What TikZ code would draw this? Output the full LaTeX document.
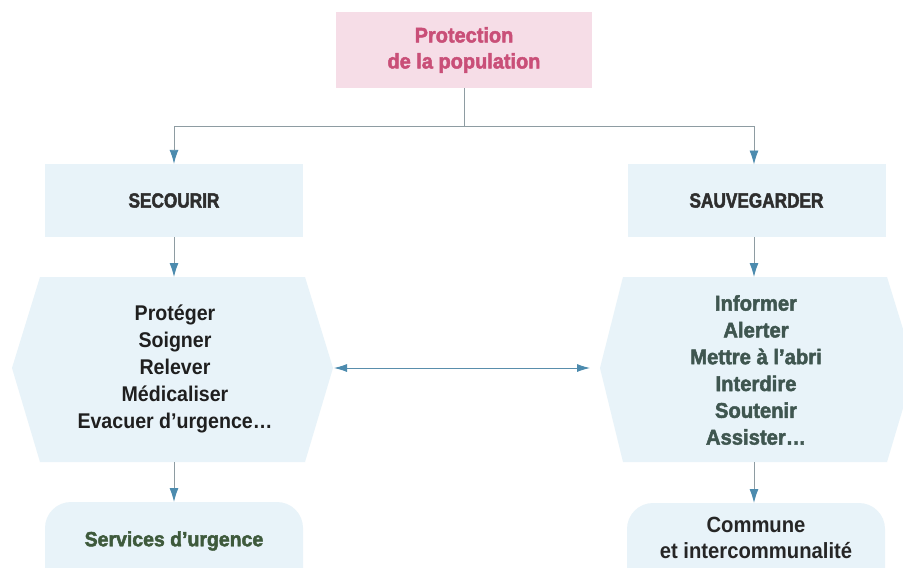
\documentclass[tikz,border=0pt]{standalone}
\usepackage{fontspec}
\setmainfont{Liberation Sans}
\newfontfamily\condf{Liberation Sans}[FakeStretch=0.92]
\newfontfamily\heavyf{Liberation Sans}[FakeStretch=0.84,FakeBold=2.2]
\newfontfamily\roundf{Liberation Sans}[FakeStretch=0.95,FakeBold=2.2]
\usetikzlibrary{arrows.meta}
\definecolor{boxblue}{HTML}{E8F3F9}
\definecolor{boxpink}{HTML}{F6DDE7}
\definecolor{pinktext}{HTML}{C94F78}
\definecolor{linegray}{HTML}{8E9CA2}
\definecolor{tipblue}{HTML}{4C8BAE}
\definecolor{darkgreen}{HTML}{3E5A3C}
\definecolor{greygreen}{HTML}{3F5650}
\definecolor{titlegray}{HTML}{2E2E2E}
\tikzset{
  conn/.style={draw=linegray, line width=0.9pt, -{Latex[length=14pt,width=9pt,color=tipblue]}},
  dbl/.style={draw=tipblue!80!linegray, line width=0.9pt, {Latex[length=13pt,width=8pt,color=tipblue]}-{Latex[length=13pt,width=8pt,color=tipblue]}},
  plain/.style={draw=linegray, line width=0.9pt},
  topbox/.style={fill=boxpink, minimum width=256pt, minimum height=76pt, inner sep=0pt, align=center,
     text=pinktext, font=\roundf\bfseries\fontsize{21}{26}\selectfont},
  levbox/.style={fill=boxblue, minimum width=258pt, minimum height=73pt, inner sep=0pt,
     text=titlegray, font=\heavyf\bfseries\fontsize{20.5}{22}\selectfont},
  listtext/.style={align=center, inner sep=0pt, font=\condf\bfseries\fontsize{21.3}{26.8}\selectfont},
  botbox/.style={fill=boxblue, rounded corners=26pt, minimum width=258pt, minimum height=100pt, inner sep=0pt}
}
\begin{document}
\begin{tikzpicture}[x=1pt,y=-1pt]
\useasboundingbox (0,0) rectangle (903,568);
\clip (0,0) rectangle (903,568);
\fill[white] (0,0) rectangle (903,568);

% top
\node[topbox] (top) at (464,50) {Protection\\de la population};
\coordinate (split) at (464,126);
\coordinate (splitL) at (174,126);
\coordinate (splitR) at (754,126);

% level 1
\node[levbox] (sec) at (174,200.5) {SECOURIR};
\node[levbox] (sau) at (756.5,200.5) {SAUVEGARDER};

% hexagons
\fill[boxblue] (40,277) -- (305,277) -- (333,368) -- (305,462) -- (40,462) -- (12,368) -- cycle;
\fill[boxblue] (623,277) -- (887,277) -- (915,368) -- (887,462) -- (623,462) -- (600,368) -- cycle;
\coordinate (hexLtop) at (174,277);
\coordinate (hexLbot) at (174,462);
\coordinate (hexLright) at (334,368);
\coordinate (hexRtop) at (754,277);
\coordinate (hexRbot) at (754,462);
\coordinate (hexRleft) at (590,368);

\node[listtext, text=black!88] (secl) at (175,369) {Protéger\\Soigner\\Relever\\Médicaliser\\Evacuer d’urgence\ldots};
\node[listtext, font=\roundf\bfseries\fontsize{21.3}{26.8}\selectfont, text=greygreen] (saul) at (756,370) {Informer\\Alerter\\Mettre à l’abri\\Interdire\\Soutenir\\Assister\ldots};

% bottom
\node[botbox] (serv) at (174,552) {};
\node[botbox] (comm) at (756,553) {};
\node[text=darkgreen, inner sep=0pt, font=\roundf\bfseries\fontsize{20.5}{22}\selectfont] (servt) at (174,541) {Services d’urgence};
\node[align=center, inner sep=0pt, text=black!85, font=\condf\bfseries\fontsize{22}{26.5}\selectfont] (commt) at (756,538) {Commune\\et intercommunalité};

% connectors
\draw[plain] (top.south) -- (split);
\draw[plain] (splitL) -- (splitR);
\draw[conn] (splitL) -- (sec.north);
\draw[conn] (splitR) -- (754,164.5);
\draw[conn] (sec.south) -- (hexLtop);
\draw[conn] (754,237) -- (hexRtop);
\draw[conn] (hexLbot) -- (174,502);
\draw[conn] (hexRbot) -- (754,503);
\draw[dbl] (hexLright) -- (hexRleft);
\end{tikzpicture}
\end{document}
